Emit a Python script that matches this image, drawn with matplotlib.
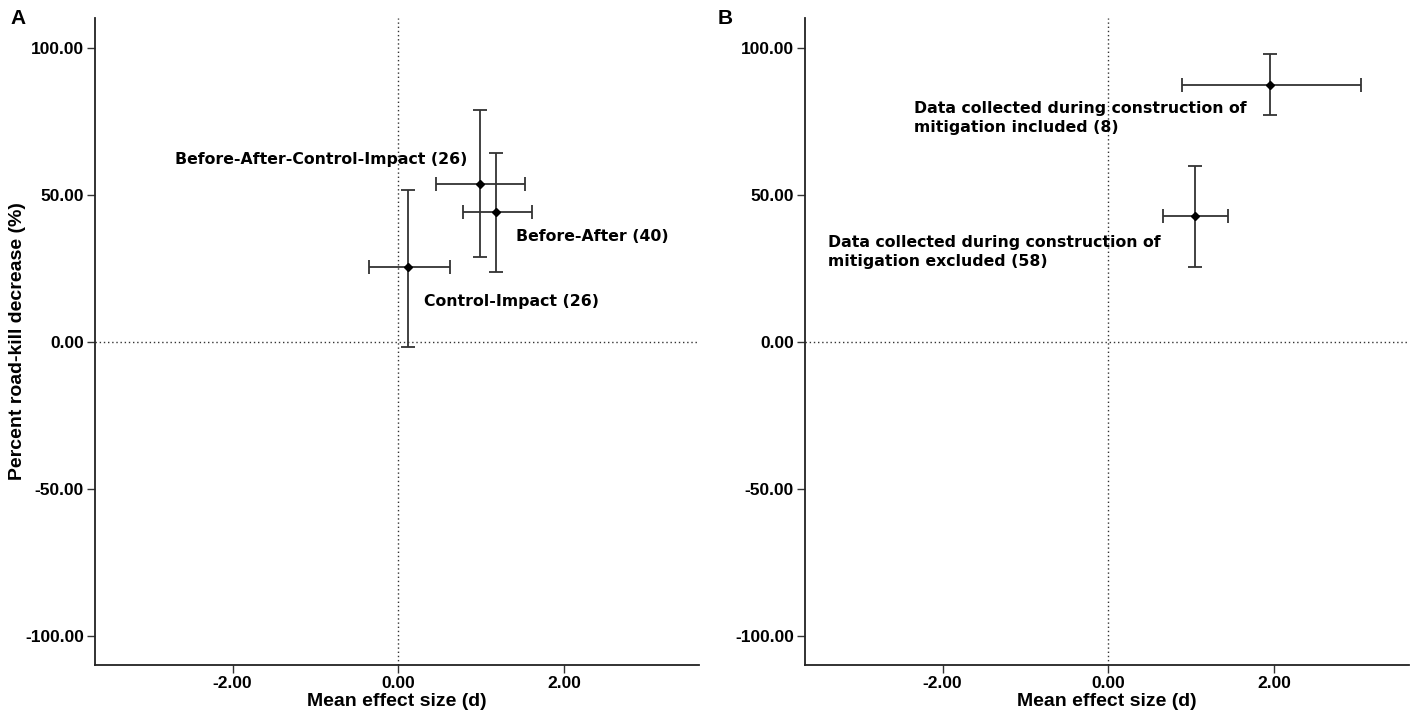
import matplotlib
matplotlib.use("Agg")
import matplotlib.pyplot as plt
import numpy as np

# ---- data ----
# Panel A: study design
a_labels = ["Before-After-Control-Impact (26)", "Before-After (40)", "Control-Impact (26)"]
a_x = [0.99, 1.18, 0.12]
a_x_lo = [0.46, 0.78, -0.35]
a_x_hi = [1.53, 1.62, 0.62]
a_y = [53.7, 44.2, 25.3]
a_y_lo = [28.7, 23.9, -1.7]
a_y_hi = [78.9, 64.4, 51.7]
a_text_x = [-2.70, 1.42, 0.31]
a_text_y = [61.9, 35.7, 13.6]

# Panel B: construction data
b_labels = ["Data collected during construction of\nmitigation included (8)",
            "Data collected during construction of\nmitigation excluded (58)"]
b_x = [1.95, 1.05]
b_x_lo = [0.89, 0.66]
b_x_hi = [3.05, 1.45]
b_y = [87.5, 42.7]
b_y_lo = [77.1, 25.3]
b_y_hi = [98.0, 59.8]
b_text_x = [-2.35, -3.38]
b_text_y = [76.2, 30.6]

x_ticks = [-2.0, 0.0, 2.0]
y_ticks = [-100.0, -50.0, 0.0, 50.0, 100.0]

tick_font = ['Liberation Sans Narrow', 'Liberation Sans', 'DejaVu Sans']
label_font = ['DejaVu Sans']

fig = plt.figure(figsize=(14.14, 7.15), dpi=100)
axA = fig.add_axes([95/1414, 1-665/715, 604/1414, 647/715])
axB = fig.add_axes([805/1414, 1-665/715, 604/1414, 647/715])

def draw(ax, xs, xlo, xhi, ys, ylo, yhi, labels, tx, ty, ylabel):
    ax.axvline(0, color='#333333', lw=1.0, ls=(0, (1, 2)), zorder=1)
    ax.axhline(0, color='#333333', lw=1.0, ls=(0, (1, 2)), zorder=1)
    xs = np.array(xs); ys = np.array(ys)
    xerr = np.vstack([xs - np.array(xlo), np.array(xhi) - xs])
    yerr = np.vstack([ys - np.array(ylo), np.array(yhi) - ys])
    ax.errorbar(xs, ys, xerr=xerr, yerr=yerr, fmt='D', color='black',
                ecolor='#333333', elinewidth=1.3, capsize=5, capthick=1.3,
                markersize=4.5, zorder=3)
    for lab, x, y in zip(labels, tx, ty):
        ax.text(x, y, lab, ha='left', va='center', fontsize=11.3,
                fontweight='bold', family=label_font, linespacing=1.35)
    ax.set_xlim(-3.66, 3.63)
    ax.set_ylim(-110, 110.2)
    ax.set_xticks(x_ticks)
    ax.set_yticks(y_ticks)
    ax.set_xticklabels([f"{v:.2f}" for v in x_ticks])
    ax.set_yticklabels([f"{v:.2f}" for v in y_ticks])
    for t in ax.get_xticklabels() + ax.get_yticklabels():
        t.set_family(tick_font)
        t.set_fontweight('bold')
        t.set_fontsize(12.5)
    ax.tick_params(direction='out', length=6, width=1.0, color='#333333', pad=2)
    for s in ['top', 'right']:
        ax.spines[s].set_visible(False)
    for s in ['left', 'bottom']:
        ax.spines[s].set_linewidth(1.3)
        ax.spines[s].set_color('#222222')
    ax.set_xlabel("Mean effect size (d)", family=tick_font, fontweight='bold',
                  fontsize=14)
    ax.xaxis.set_label_coords(0.5, (665 - 701) / 647, transform=ax.transAxes)
    ax.xaxis.label.set_va('center')
    if ylabel:
        ax.set_ylabel(ylabel, family=tick_font, fontweight='bold', fontsize=14)
        ax.yaxis.set_label_coords((18 - 95) / 604, 0.5, transform=ax.transAxes)
        ax.yaxis.label.set_va('center')

draw(axA, a_x, a_x_lo, a_x_hi, a_y, a_y_lo, a_y_hi, a_labels, a_text_x, a_text_y,
     "Percent road-kill decrease (%)")
draw(axB, b_x, b_x_lo, b_x_hi, b_y, b_y_lo, b_y_hi, b_labels, b_text_x, b_text_y, None)

fig.text(10/1414, 1-18/715, "A", fontsize=15, fontweight='bold', family=['Liberation Sans'], va='center', ha='left')
fig.text(718/1414, 1-18/715, "B", fontsize=15, fontweight='bold', family=['Liberation Sans'], va='center', ha='left')

fig.savefig("out.png", dpi=100)
